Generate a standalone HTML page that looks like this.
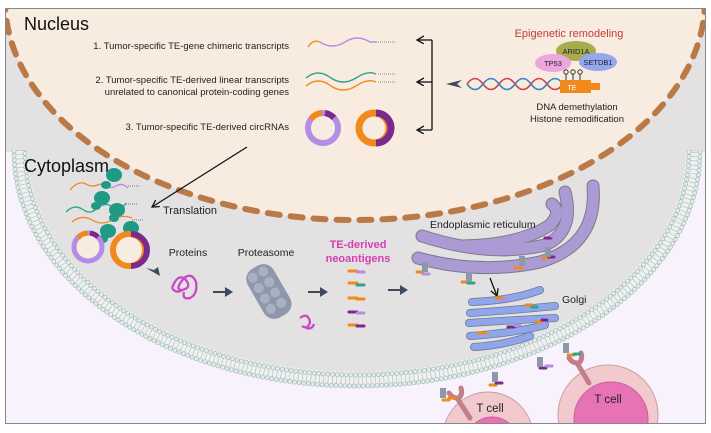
<!DOCTYPE html>
<html><head><meta charset="utf-8"><style>
html,body{margin:0;padding:0;background:#fff;overflow:hidden;width:711px;height:433px;}
svg{display:block;font-family:"Liberation Sans",sans-serif;}
</style></head><body>
<svg width="711" height="433" viewBox="0 0 711 433" xmlns="http://www.w3.org/2000/svg">
<defs>
<clipPath id="fr"><rect x="6" y="9" width="700" height="414"/></clipPath>
<clipPath id="low"><rect x="0" y="150" width="711" height="283"/></clipPath>
<marker id="ah" markerWidth="9" markerHeight="9" refX="7" refY="4" orient="auto" markerUnits="userSpaceOnUse"><path d="M0,0 L7,4 L0,8" fill="none" stroke="#111" stroke-width="1.3"/></marker>
</defs>
<rect x="0" y="0" width="711" height="433" fill="#fff"/>
<g clip-path="url(#fr)">
<rect x="6" y="9" width="700" height="414" fill="#f7f2fb"/>
<rect x="6" y="9" width="700" height="143" fill="#e3e1e1"/>
<g clip-path="url(#low)">
<ellipse cx="357" cy="152" rx="345" ry="236" fill="#edf1f0"/>
<ellipse cx="357" cy="152" rx="337.5" ry="228.5" fill="none" stroke="#a9b0b0" stroke-width="7" stroke-dasharray="0.5 3.8"/>
<ellipse cx="357" cy="152" rx="343" ry="234" fill="none" stroke="#a3b8b5" stroke-width="4.8" stroke-dasharray="0 4.6" stroke-linecap="round"/>
<ellipse cx="357" cy="152" rx="343" ry="234" fill="none" stroke="#e2eeec" stroke-width="3.4" stroke-dasharray="0 4.6" stroke-linecap="round"/>
<ellipse cx="357" cy="152" rx="332" ry="223" fill="none" stroke="#a3b8b5" stroke-width="4.8" stroke-dasharray="0 4.6" stroke-linecap="round"/>
<ellipse cx="357" cy="152" rx="332" ry="223" fill="none" stroke="#e2eeec" stroke-width="3.4" stroke-dasharray="0 4.6" stroke-linecap="round"/>
<ellipse cx="357" cy="152" rx="329" ry="220" fill="#e3e1e1"/>
</g>
<!-- nucleus -->
<ellipse cx="355" cy="0" rx="350" ry="220" fill="#f8ebe0"/>
<ellipse cx="355" cy="0" rx="350" ry="220" fill="none" stroke="#b97a48" stroke-width="6" stroke-dasharray="12 11" stroke-linecap="round"/>
<!-- T cells -->
<circle cx="488" cy="437" r="45" fill="#f2cacd" stroke="#c99ea6"/>
<circle cx="492" cy="443" r="26" fill="#e873b4" stroke="#c9609b"/>
<circle cx="608" cy="415" r="50" fill="#f2cacd" stroke="#c99ea6"/>
<circle cx="611" cy="419" r="37" fill="#e873b4" stroke="#c9609b"/>
<!-- TCRs -->
<g stroke="#c07f8a" stroke-width="5" stroke-linecap="round" fill="none">
<path d="M457,398 L470,418"/><path d="M449,393 q4,6 10,5 q4,-4 2,-10"/>
<path d="M577,363 L589,383"/><path d="M569,358 q4,6 10,5 q4,-4 2,-10"/>
</g>
</g>
<rect x="5.5" y="8.5" width="700" height="415" fill="none" stroke="#888" stroke-width="1"/>
<text x="24" y="30" font-size="18" fill="#111">Nucleus</text>
<text x="24" y="172" font-size="18" fill="#111">Cytoplasm</text>
<g font-size="9.5" fill="#222" text-anchor="end">
<text x="289" y="49">1. Tumor-specific TE-gene chimeric transcripts</text>
<text x="289" y="83">2. Tumor-specific TE-derived linear transcripts</text>
<text x="289" y="95">unrelated to canonical protein-coding genes</text>
<text x="289" y="130">3. Tumor-specific TE-derived circRNAs</text>
</g>
<g fill="none" stroke-width="1.4">
<path d="M308,47 q5,-8 12,-5" stroke="#f08a1c"/>
<path d="M320,42 q12,8 25,0 q12,-8 25,0 l7,0" stroke="#b48ee6"/>
<path d="M306,78 q12,-10 25,0 q12,8 25,0 q12,-8 20,-4" stroke="#2aa58e"/>
<path d="M306,86 q12,-10 25,0 q12,8 25,0 q12,-8 20,-4" stroke="#f08a1c"/>
<path d="M378,42 h18 M378,74 h18 M378,82 h18" stroke="#888" stroke-width="1" stroke-dasharray="1 1"/>
</g>
<circle cx="323" cy="128" r="15" fill="#f8ebe0" stroke="#b48ee6" stroke-width="6"/>
<path d="M311,119 A15,15 0 0 1 322,113" fill="none" stroke="#f08a1c" stroke-width="6"/>
<path d="M325,113 A15,15 0 0 1 334,118" fill="none" stroke="#7a2a8c" stroke-width="6"/>
<circle cx="374" cy="128" r="15" fill="#f8ebe0" stroke="#f08a1c" stroke-width="7"/>
<path d="M376,113 A15,15 0 0 1 376,143" fill="none" stroke="#7a2a8c" stroke-width="7"/>
<g stroke="#111" stroke-width="1.3" fill="none">
<path d="M432,40 V130"/>
<line x1="432" y1="40" x2="417" y2="40" marker-end="url(#ah)"/>
<line x1="432" y1="82" x2="417" y2="82" marker-end="url(#ah)"/>
<line x1="432" y1="130" x2="417" y2="130" marker-end="url(#ah)"/>
<line x1="247" y1="147" x2="152" y2="207" marker-end="url(#ah)"/>
<line x1="490" y1="278" x2="497" y2="296" marker-end="url(#ah)"/>
</g>
<path d="M462,80 L446,84 L462,88 L457,84Z" fill="#3f4a5c"/>
<text x="569" y="37" font-size="11" fill="#c23b3b" text-anchor="middle">Epigenetic remodeling</text>
<ellipse cx="576" cy="51" rx="20" ry="10" fill="#a7ad4f"/>
<text x="576" y="54" font-size="7.5" text-anchor="middle" fill="#222">ARID1A</text>
<ellipse cx="553" cy="63" rx="18" ry="9" fill="#eea6df"/>
<text x="553" y="66" font-size="7.5" text-anchor="middle" fill="#222">TP53</text>
<ellipse cx="598" cy="62" rx="19" ry="9" fill="#93a8ee"/>
<text x="598" y="65" font-size="7.5" text-anchor="middle" fill="#222">SETDB1</text>
<path d="M467,84 q8,-11 16,0 q8,11 16,0 q8,-11 16,0 q8,11 16,0 q8,-11 16,0 q8,11 16,0" fill="none" stroke="#c44" stroke-width="1.6"/>
<path d="M467,84 q8,11 16,0 q8,-11 16,0 q8,11 16,0 q8,-11 16,0 q8,11 16,0 q8,-11 16,0" fill="none" stroke="#3a7fc4" stroke-width="1.6"/>
<rect x="560" y="80" width="31" height="13" fill="#f08a1c"/>
<rect x="590" y="83" width="10" height="7" fill="#f08a1c"/>
<text x="572" y="90" font-size="7" fill="#fff" text-anchor="middle">TE</text>
<g stroke="#222" fill="none" stroke-width="0.9"><circle cx="566" cy="72" r="2.2"/><circle cx="573" cy="72" r="2.2"/><circle cx="580" cy="72" r="2.2"/><path d="M566,74v6M573,74v6M580,74v6"/></g>
<g font-size="9.5" fill="#222" text-anchor="middle"><text x="577" y="110">DNA demethylation</text><text x="577" y="122">Histone remodification</text></g>
<g fill="none" stroke-width="1.3">
<path d="M70,190 q8,-10 16,-6 q6,4 14,0" stroke="#f08a1c"/><path d="M100,184 q10,6 16,2 q6,-4 12,2" stroke="#b48ee6"/>
<path d="M66,212 q8,-8 16,-3 q8,6 14,0" stroke="#2aa58e"/><path d="M96,209 q10,-8 16,-2 q8,6 14,-4" stroke="#2aa58e"/>
<path d="M72,222 q10,-8 20,-2 q10,6 20,0 q10,-6 20,-2" stroke="#f08a1c"/>
<path d="M128,186 h12 M126,204 h12 M132,220 h12" stroke="#777" stroke-width="1" stroke-dasharray="1 1"/>
</g>
<g fill="#1f9a84"><ellipse cx="114" cy="175" rx="8" ry="7"/><ellipse cx="106" cy="185" rx="5" ry="4"/><ellipse cx="102" cy="198" rx="8" ry="7"/><ellipse cx="96" cy="206" rx="5" ry="4"/><ellipse cx="117" cy="210" rx="8" ry="7"/><ellipse cx="114" cy="218" rx="5" ry="4"/><ellipse cx="108" cy="231" rx="8" ry="7"/><ellipse cx="103" cy="239" rx="5" ry="4"/><ellipse cx="131" cy="228" rx="8" ry="7"/><ellipse cx="127" cy="237" rx="5" ry="4"/></g>
<text x="163" y="214" font-size="11" fill="#222">Translation</text>
<circle cx="88" cy="247" r="14" fill="#f8ebe0" stroke="#b48ee6" stroke-width="5"/>
<path d="M78,238 A14,14 0 0 1 88,233" fill="none" stroke="#f08a1c" stroke-width="5"/>
<path d="M90,233 A14,14 0 0 1 98,237" fill="none" stroke="#7a2a8c" stroke-width="5"/>
<circle cx="129" cy="250" r="16" fill="#f8ebe0" stroke="#f08a1c" stroke-width="6"/>
<path d="M131,234 A16,16 0 0 1 131,266" fill="none" stroke="#7a2a8c" stroke-width="6"/>
<g font-size="10.5" fill="#222" text-anchor="middle"><text x="188" y="256">Proteins</text><text x="266" y="256">Proteasome</text></g>
<text x="358" y="248" font-size="11" font-weight="bold" fill="#d63fb0" text-anchor="middle">TE-derived</text>
<text x="358" y="262" font-size="11" font-weight="bold" fill="#d63fb0" text-anchor="middle">neoantigens</text>
<g fill="#3f4a5c"><path d="M146,268 l14,8 l-2,-9 l-4,3z"/><path d="M213,291 h12 v-4 l8,5 l-8,5 v-4 h-12z"/><path d="M308,291 h12 v-4 l8,5 l-8,5 v-4 h-12z"/><path d="M388,289 h12 v-4 l8,5 l-8,5 v-4 h-12z"/></g>
<path d="M172,288 q6,-16 14,-8 q6,8 -4,10 q-8,0 2,-12 q8,-6 12,4 q2,12 -6,16 q-8,2 -6,-6 M172,288 q4,6 10,2" fill="none" stroke="#c948c8" stroke-width="2.3"/>
<g transform="rotate(-30 268 292)"><rect x="254" y="264" width="30" height="56" rx="12" fill="#8e98ab"/><g fill="#a8b1c2"><circle cx="262" cy="272" r="5"/><circle cx="274" cy="272" r="5"/><circle cx="262" cy="284" r="5"/><circle cx="274" cy="284" r="5"/><circle cx="262" cy="296" r="5"/><circle cx="274" cy="296" r="5"/><circle cx="262" cy="308" r="5"/><circle cx="274" cy="308" r="5"/></g></g>
<path d="M300,318 q8,-6 10,4 q-2,8 -8,4 M306,328 q6,2 8,-4" fill="none" stroke="#c948c8" stroke-width="2.3"/>
<g stroke-width="3" fill="none" stroke-linecap="round">
<path d="M349,271 h8" stroke="#f08a1c"/><path d="M357,272 h7" stroke="#b48ee6"/>
<path d="M349,283 h8" stroke="#f08a1c"/><path d="M357,285 h7" stroke="#2aa58e"/>
<path d="M349,298 h8" stroke="#f08a1c"/><path d="M357,299 h7" stroke="#f08a1c"/>
<path d="M349,312 h8" stroke="#7a2a8c"/><path d="M357,313 h7" stroke="#b48ee6"/>
<path d="M349,325 h8" stroke="#f08a1c"/><path d="M357,326 h7" stroke="#7a2a8c"/>
</g>
<g fill="none" stroke-linecap="round">
<g stroke="#7b7a8a" stroke-width="13"><path d="M418,258 Q480,275 540,262 Q598,245 593,186"/><path d="M422,236 Q490,258 545,245 Q575,232 565,192"/><path d="M462,246 Q520,245 550,225 Q562,212 552,204"/></g>
<g stroke="#ab9ad3" stroke-width="11"><path d="M418,258 Q480,275 540,262 Q598,245 593,186"/><path d="M422,236 Q490,258 545,245 Q575,232 565,192"/><path d="M462,246 Q520,245 550,225 Q562,212 552,204"/></g>
</g>
<text x="430" y="228" font-size="10.5" fill="#222">Endoplasmic reticulum</text>
<g fill="none" stroke-linecap="round">
<g stroke="#6c7898" stroke-width="8"><path d="M472,302 Q515,300 540,290"/><path d="M470,313 Q515,310 555,306"/><path d="M469,323 Q515,320 555,318"/><path d="M470,336 Q515,333 545,325"/><path d="M474,347 Q505,345 530,336"/></g>
<g stroke="#8fa6ea" stroke-width="6.5"><path d="M472,302 Q515,300 540,290"/><path d="M470,313 Q515,310 555,306"/><path d="M469,323 Q515,320 555,318"/><path d="M470,336 Q515,333 545,325"/><path d="M474,347 Q505,345 530,336"/></g>
</g>
<text x="562" y="303" font-size="10.5" fill="#222">Golgi</text>
<g stroke-width="3" stroke-linecap="round" fill="none">
<path d="M417,272 h6" stroke="#f08a1c"/><path d="M423,274 h6" stroke="#b48ee6"/>
<path d="M462,282 h6" stroke="#f08a1c"/><path d="M468,283 h6" stroke="#2aa58e"/>
<path d="M515,268 h7" stroke="#f08a1c"/><path d="M543,258 h6" stroke="#f08a1c"/><path d="M549,257 h5" stroke="#7a2a8c"/>
<path d="M545,238 h6" stroke="#7a2a8c"/><path d="M551,236 h5" stroke="#b48ee6"/>
<path d="M496,298 h6" stroke="#f08a1c"/><path d="M502,300 h6" stroke="#b48ee6"/>
<path d="M526,305 h6" stroke="#f08a1c"/><path d="M532,307 h5" stroke="#2aa58e"/>
<path d="M478,333 h8" stroke="#f08a1c"/><path d="M508,327 h6" stroke="#7a2a8c"/><path d="M514,325 h6" stroke="#b48ee6"/>
<path d="M536,322 h6" stroke="#f08a1c"/><path d="M542,320 h5" stroke="#7a2a8c"/>
<path d="M443,400 h6" stroke="#f08a1c"/><path d="M449,398 h6" stroke="#f08a1c"/>
<path d="M490,385 h6" stroke="#f08a1c"/><path d="M496,383 h6" stroke="#7a2a8c"/>
<path d="M540,368 h6" stroke="#7a2a8c"/><path d="M546,366 h6" stroke="#b48ee6"/>
<path d="M568,355 h6" stroke="#f08a1c"/><path d="M574,354 h6" stroke="#2aa58e"/>
</g>
<g fill="#8e98ab"><rect x="440" y="388" width="6" height="10"/><rect x="492" y="372" width="6" height="10"/><rect x="537" y="357" width="6" height="10"/><rect x="563" y="343" width="6" height="10"/><rect x="422" y="262" width="6" height="10"/><rect x="466" y="272" width="6" height="10"/><rect x="519" y="256" width="6" height="10"/><rect x="545" y="247" width="6" height="10"/></g>
<text x="490" y="412" font-size="11.5" fill="#222" text-anchor="middle">T cell</text>
<text x="608" y="403" font-size="11.5" fill="#222" text-anchor="middle">T cell</text>
</svg>
</body></html>
